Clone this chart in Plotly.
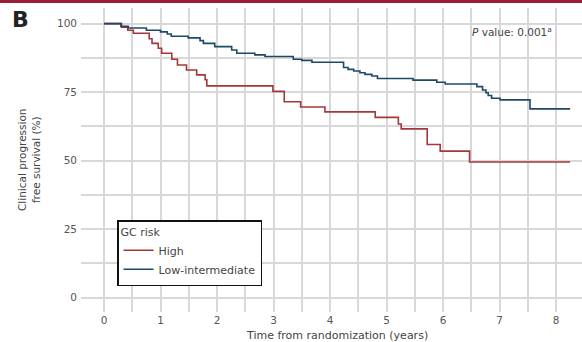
import plotly.graph_objects as go

# ---- data ----
high_t = [0, 0.31, 0.42, 0.52, 0.80, 0.85, 0.96, 1.02, 1.20, 1.30, 1.46, 1.64, 1.79, 1.82,
          2.99, 3.19, 3.48, 3.91, 4.80, 5.21, 5.26, 5.72, 5.95, 6.47, 8.25]
high_s = [100, 98.7, 97.6, 96.5, 94.5, 92.8, 91.0, 89.2, 87.0, 84.9, 83.1, 81.3, 79.5, 77.3,
          75.3, 71.5, 69.6, 67.8, 65.8, 63.4, 61.6, 55.9, 53.5, 49.5, 49.5]

low_t = [0, 0.30, 0.43, 0.75, 1.00, 1.12, 1.19, 1.49, 1.70, 1.76, 1.96, 2.26, 2.35, 2.67,
         2.85, 3.35, 3.50, 3.68, 4.24, 4.32, 4.42, 4.53, 4.62, 4.74, 4.84, 5.47, 5.89, 6.04,
         6.60, 6.70, 6.76, 6.80, 6.86, 7.01, 7.54, 8.25]
low_s = [100, 99.0, 98.4, 97.6, 97.0, 96.2, 95.4, 94.8, 93.8, 92.8, 91.6, 90.4, 89.2, 88.6,
         88.0, 87.0, 86.6, 85.9, 84.0, 83.3, 82.7, 82.1, 81.5, 80.9, 80.0, 79.4, 78.6, 78.0,
         77.0, 75.8, 74.8, 73.8, 72.8, 72.2, 68.9, 68.9]

series_names = ["High", "Low-intermediate"]
series_colors = ["#a5373b", "#1d4866"]
x_ticks = [0, 1, 2, 3, 4, 5, 6, 7, 8]
y_ticks = [0, 25, 50, 75, 100]

FONT = "DejaVu Sans"
GRID = "#d8d8d8"
TXT = "#555555"

fig = go.Figure()
for t, s, name, col in [(high_t, high_s, series_names[0], series_colors[0]),
                        (low_t, low_s, series_names[1], series_colors[1])]:
    fig.add_trace(go.Scatter(x=t, y=s, mode="lines", name=name,
                             line=dict(color=col, width=1.6, shape="hv")))

fig.update_layout(
    width=582, height=342,
    margin=dict(l=81, r=0, t=8, b=30),
    paper_bgcolor="white", plot_bgcolor="white",
    font=dict(family=FONT, size=11, color=TXT),
    showlegend=True,
    legend=dict(
        x=0.0719, y=0.3026, xanchor="left", yanchor="top",
        bgcolor="white", bordercolor="#111111", borderwidth=1.5,
        title=dict(text="GC risk", font=dict(family=FONT, size=11, color="#444444")),
        font=dict(family=FONT, size=11, color="#444444"),
        itemwidth=30, tracegroupgap=0,
    ),
    xaxis=dict(
        range=[-0.407, 8.46], tickvals=x_ticks, ticktext=[str(v) for v in x_ticks],
        showgrid=True, gridcolor=GRID, gridwidth=1.5,
        minor=dict(dtick=0.5, tick0=0, showgrid=True, gridcolor=GRID, gridwidth=1.5),
        zeroline=False, showline=False, ticks="",
        tickfont=dict(family=FONT, size=10.5, color=TXT),
    ),
    yaxis=dict(
        range=[-5.2, 105.7], tickvals=y_ticks, ticktext=[str(v) for v in y_ticks],
        showgrid=True, gridcolor=GRID, gridwidth=1.5,
        minor=dict(dtick=12.5, tick0=0, showgrid=True, gridcolor=GRID, gridwidth=1.5),
        zeroline=False, showline=False, ticks="",
        ticklabelstandoff=3,
        tickfont=dict(family=FONT, size=10.5, color=TXT),
    ),
)

# top red rule
fig.add_shape(type="rect", xref="paper", yref="paper",
              x0=-0.17, x1=1.01, y0=1 + 5 / 304, y1=1 + 9 / 304,
              fillcolor="#9b1c35", line=dict(width=0), layer="above")

annotations = [
    dict(text="<b>B</b>", x=(20 - 81) / 501, y=1 - (19.5 - 8) / 304, xref="paper", yref="paper",
         xanchor="center", yanchor="middle", showarrow=False,
         font=dict(family=FONT, size=22, color="#222222")),
    dict(text="<i>P</i> value: 0.001<sup>a</sup>", x=(512 - 81) / 501, y=1 - (31.5 - 8) / 304,
         xref="paper", yref="paper", xanchor="center", yanchor="middle", showarrow=False,
         font=dict(family=FONT, size=10.5, color="#444444")),
    dict(text="Time from randomization (years)", x=(337 - 81) / 501, y=1 - (335 - 8) / 304,
         xref="paper", yref="paper", xanchor="center", yanchor="middle", showarrow=False,
         font=dict(family=FONT, size=11, color="#444444")),
    dict(text="Clinical progression<br>free survival (%)", x=(29 - 81) / 501, y=0.5,
         xref="paper", yref="paper", xanchor="center", yanchor="middle", showarrow=False,
         textangle=-90, font=dict(family=FONT, size=10.5, color="#444444")),
]
fig.update_layout(annotations=annotations)

fig.write_html("out.html", config={"displayModeBar": False},
               post_script="document.body.style.margin='0';document.body.style.overflow='hidden';")
